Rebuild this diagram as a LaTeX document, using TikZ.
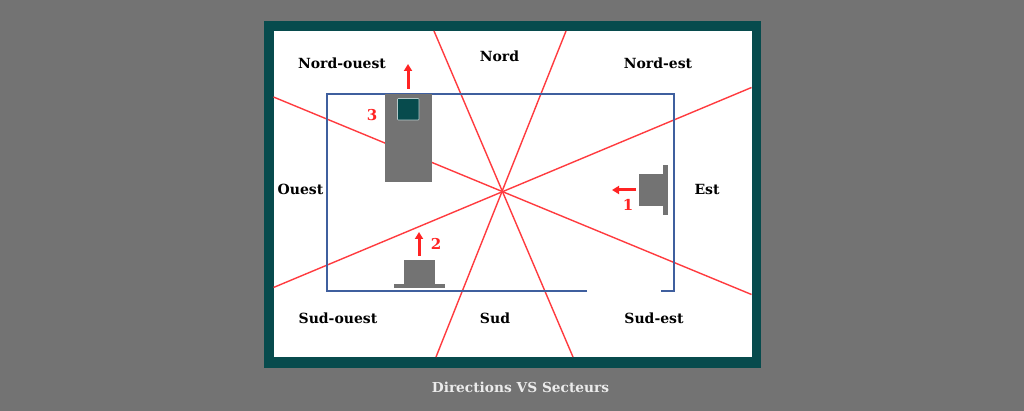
\documentclass[tikz,border=0pt]{standalone}
\usepackage{fontspec}
\setmainfont{DejaVu Serif}
\usetikzlibrary{arrows.meta}
\definecolor{bggray}{HTML}{737373}
\definecolor{teal2}{HTML}{074B4D}
\definecolor{redl}{HTML}{FF3B3F}
\definecolor{redt}{HTML}{FF2323}
\definecolor{bluel}{HTML}{3F5F9E}
\tikzset{
  lab/.style={font=\bfseries\fontsize{14pt}{16pt}\selectfont,text=black,inner sep=0pt},
  num/.style={font=\bfseries\fontsize{15pt}{17pt}\selectfont,text=redt,inner sep=0pt},
  sector/.style={draw=redl,line width=1.4pt},
  wall/.style={draw=bluel,line width=2pt},
  gblock/.style={fill=bggray,draw=none},
  dirarrow/.style={draw=redt,line width=3pt,-{Triangle[length=7pt,width=8pt]}}
}
\begin{document}
\begin{tikzpicture}[x=1pt,y=-1pt]
\useasboundingbox (0,0) rectangle (1024,411);
\fill[bggray] (0,0) rectangle (1024,411);
\fill[teal2] (264,21) rectangle (761,367.5);
\fill[white] (273.5,31) rectangle (751.5,357);
% sector lines
\coordinate (n1) at (434,31); \coordinate (s1) at (573,357);
\coordinate (n2) at (566,31); \coordinate (s2) at (436,357);
\coordinate (w1) at (273.5,97); \coordinate (e1) at (751.5,294.5);
\coordinate (w2) at (273.5,287.5); \coordinate (e2) at (751.5,87.5);
\draw[sector] (n1) -- (s1);
\draw[sector] (n2) -- (s2);
\draw[sector] (w1) -- (e1);
\draw[sector] (w2) -- (e2);
% room
\draw[wall,line join=miter] (587,291) -- (327,291) -- (327,94) -- (674,94) -- (674,291) -- (661,291);
% block 3
\fill[gblock] (385,94.5) rectangle (431.5,182);
\filldraw[fill=teal2,draw=white!70!teal2,line width=.6pt,rounded corners=.8pt] (397.5,98.5) rectangle (419,120);
% block 1
\fill[gblock] (639,174) rectangle (667,206);
\fill[gblock] (663,165) rectangle (667.5,215);
% block 2
\fill[gblock] (403.5,260) rectangle (435,285);
\fill[gblock] (394,284) rectangle (444.5,288.5);
% arrows
\coordinate (a3s) at (408,89); \coordinate (a3e) at (408,64);
\coordinate (a1s) at (636,190); \coordinate (a1e) at (612,190);
\coordinate (a2s) at (419,256); \coordinate (a2e) at (419,232);
\draw[dirarrow] (a3s) -- (a3e);
\draw[dirarrow] (a1s) -- (a1e);
\draw[dirarrow] (a2s) -- (a2e);
% labels
\node[lab] (no) at (342,63.5) {Nord-ouest};
\node[lab] (nn) at (499.5,56.5) {Nord};
\node[lab] (ne) at (658,63.5) {Nord-est};
\node[lab] (oo) at (300.5,189) {Ouest};
\node[lab] (ee) at (707,189) {Est};
\node[lab] (so) at (338,318.5) {Sud-ouest};
\node[lab] (ss) at (495,318.5) {Sud};
\node[lab] (se) at (654,318.5) {Sud-est};
\node[num] (n3) at (372,115) {3};
\node[num] (n1l) at (628,205) {1};
\node[num] (n2l) at (436,244) {2};
\node[lab,text=white!92!black,font=\bfseries\fontsize{13.75pt}{16pt}\selectfont] (cap) at (520.5,387.5) {Directions VS Secteurs};
\end{tikzpicture}
\end{document}
